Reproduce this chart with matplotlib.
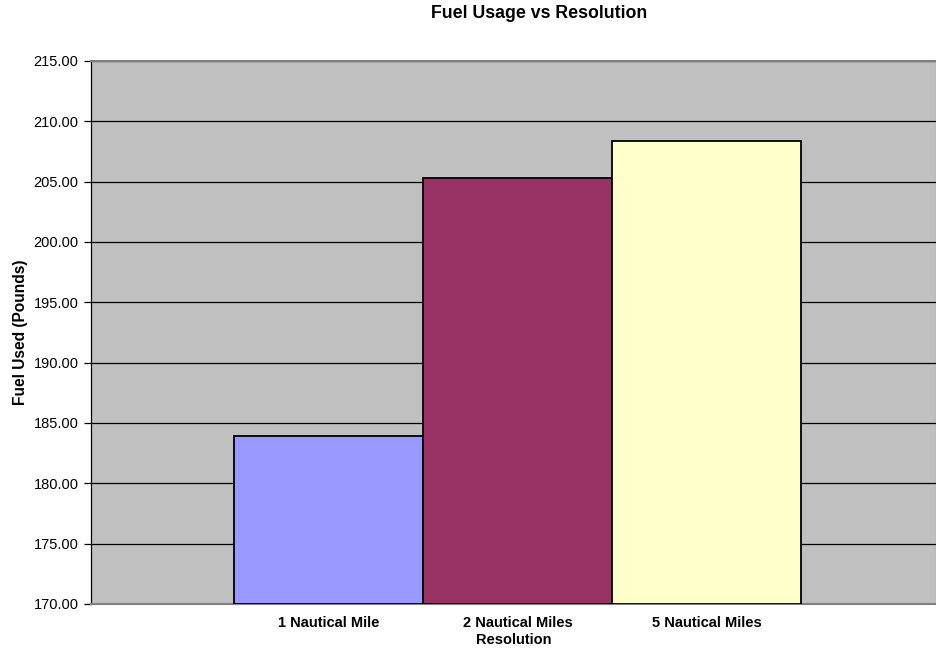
import matplotlib.pyplot as plt
from matplotlib.ticker import FormatStrFormatter

plt.rcParams["font.family"] = ["Liberation Sans", "DejaVu Sans"]

# Fuel used per resolution setting
resolutions = ["1 Nautical Mile", "2 Nautical Miles", "5 Nautical Miles"]
fuel_used = [183.93, 205.33, 208.38]
bar_colors = ["#9999FF", "#993366", "#FFFFCC"]

fig = plt.figure(figsize=(9.37, 6.5), dpi=100)
ax = fig.add_axes([0.0971, 0.0708, 0.9029, 0.8354])
ax.set_facecolor("#C0C0C0")

x = range(len(resolutions))
ax.bar(x, [v - 170 for v in fuel_used], bottom=170, width=1.0,
       color=bar_colors, edgecolor="black", linewidth=1.3, zorder=3)

ax.set_ylim(170, 215)
ax.set_xlim(-1.2566, 3.2196)
ax.set_yticks(range(170, 216, 5))
ax.yaxis.set_major_formatter(FormatStrFormatter("%.2f"))
ax.grid(axis="y", color="black", linewidth=0.9, zorder=1)

ax.set_xticks(list(x))
ax.set_xticklabels(resolutions, fontweight="bold", fontsize=10.5)
ax.tick_params(axis="x", length=0, pad=9)
ax.tick_params(axis="y", labelsize=10.5, length=5, width=0.9, direction="out", pad=4)

for side in ["top", "bottom", "right"]:
    ax.spines[side].set_color("#808080")
    ax.spines[side].set_linewidth(1.5)
ax.spines["left"].set_color("black")
ax.spines["left"].set_linewidth(0.9)

ax.set_xlabel("Resolution", fontweight="bold", fontsize=10.5, labelpad=2)
ax.set_ylabel("Fuel Used (Pounds)", fontweight="bold", fontsize=11.2, labelpad=4)
fig.suptitle("Fuel Usage vs Resolution", fontweight="bold", fontsize=12.8,
             x=0.575, y=0.992)

fig.savefig("out.png", dpi=100)
